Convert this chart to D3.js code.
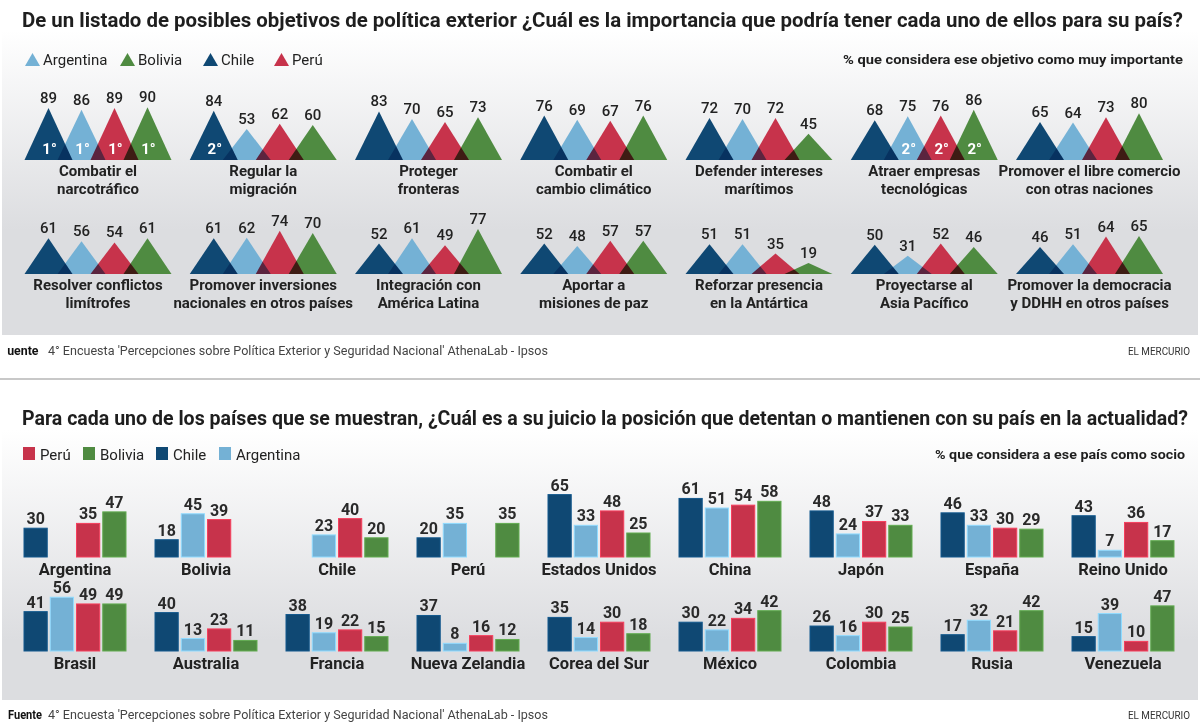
<!DOCTYPE html>
<html>
<head>
<meta charset="utf-8">
<script src="https://cdn.jsdelivr.net/npm/d3@7"></script>
<style>
  body { margin: 0; background: #fff; }
  svg { display: block; font-family: Roboto, "Noto Sans", sans-serif; }
</style>
</head>
<body>
<div id="chart"></div>
<script>
// ---- data ----
const countries = ["Chile", "Argentina", "Perú", "Bolivia"];
const colors = { Chile: "#0f4873", Argentina: "#74b1d5", "Perú": "#c7334b", Bolivia: "#4f8b41" };

// objetivos (top chart), order Chile, Argentina, Perú, Bolivia
const goalLabels = [
  ["Combatir el", "narcotráfico"], ["Regular la", "migración"], ["Proteger", "fronteras"],
  ["Combatir el", "cambio climático"], ["Defender intereses", "marítimos"],
  ["Atraer empresas", "tecnológicas"], ["Promover el libre comercio", "con otras naciones"],
  ["Resolver conflictos", "limítrofes"], ["Promover inversiones", "nacionales en otros países"],
  ["Integración con", "América Latina"], ["Aportar a", "misiones de paz"],
  ["Reforzar presencia", "en la Antártica"], ["Proyectarse al", "Asia Pacífico"],
  ["Promover la democracia", "y DDHH en otros países"]
];
const goalChile     = [89, 84, 83, 76, 72, 68, 65, 61, 61, 52, 52, 51, 50, 46];
const goalArgentina = [86, 53, 70, 69, 70, 75, 64, 56, 62, 61, 48, 51, 31, 51];
const goalPeru      = [89, 62, 65, 67, 72, 76, 73, 54, 74, 49, 57, 35, 52, 64];
const goalBolivia   = [90, 60, 73, 76, 45, 86, 80, 61, 70, 77, 57, 19, 46, 65];
// ranking marks shown inside the triangles
const goalRanks = [
  ["1°", "1°", "1°", "1°"], ["2°", "", "", ""], ["", "", "", ""], ["", "", "", ""],
  ["", "", "", ""], ["", "2°", "2°", "2°"], ["", "", "", ""],
  ["", "", "", ""], ["", "", "", ""], ["", "", "", ""], ["", "", "", ""],
  ["", "", "", ""], ["", "", "", ""], ["", "", "", ""]
];

// socios (bottom chart), null = own country
const partnerLabels = [
  "Argentina", "Bolivia", "Chile", "Perú", "Estados Unidos", "China", "Japón", "España", "Reino Unido",
  "Brasil", "Australia", "Francia", "Nueva Zelandia", "Corea del Sur", "México", "Colombia", "Rusia", "Venezuela"
];
const partnerChile     = [30, 18, null, 20, 65, 61, 48, 46, 43, 41, 40, 38, 37, 35, 30, 26, 17, 15];
const partnerArgentina = [null, 45, 23, 35, 33, 51, 24, 33, 7, 56, 13, 19, 8, 14, 22, 16, 32, 39];
const partnerPeru      = [35, 39, 40, null, 48, 54, 37, 30, 36, 49, 23, 22, 16, 30, 34, 30, 21, 10];
const partnerBolivia   = [47, null, 20, 35, 25, 58, 33, 29, 17, 49, 11, 15, 12, 18, 42, 25, 42, 47];

const legend1 = ["Argentina", "Bolivia", "Chile", "Perú"];
const legend2 = ["Perú", "Bolivia", "Chile", "Argentina"];

const width = 1200, height = 728;

const svg = d3.select("#chart").append("svg")
  .attr("width", width).attr("height", height);

const defs = svg.append("defs");
function grad(id, y1, y2) {
  const g = defs.append("linearGradient").attr("id", id)
    .attr("gradientUnits", "userSpaceOnUse")
    .attr("x1", 0).attr("x2", 0).attr("y1", y1).attr("y2", y2);
  g.append("stop").attr("offset", 0).attr("stop-color", "#ffffff");
  g.append("stop").attr("offset", 1).attr("stop-color", "#dcdde0");
}
grad("bg1", 30, 230);
grad("bg2", 430, 640);
// the top source line is cut at the left edge in the original
defs.append("clipPath").attr("id", "srcclip")
  .append("rect").attr("x", 7.5).attr("y", 330).attr("width", 400).attr("height", 40);

svg.append("rect").attr("x", 2).attr("y", 0).attr("width", 1196).attr("height", 335).attr("fill", "url(#bg1)");
svg.append("rect").attr("x", 2).attr("y", 381).attr("width", 1196).attr("height", 319).attr("fill", "url(#bg2)");
svg.append("line").attr("x1", 0).attr("x2", width).attr("y1", 379).attr("y2", 379)
  .attr("stroke", "#c8c8c8").attr("stroke-width", 2);

// titles
svg.append("text").attr("x", 22).attr("y", 27)
  .attr("font-size", 20).attr("font-weight", 700).attr("fill", "#1e1e1e")
  .attr("textLength", 1161).attr("lengthAdjust", "spacingAndGlyphs")
  .text("De un listado de posibles objetivos de política exterior ¿Cuál es la importancia que podría tener cada uno de ellos para su país?");
svg.append("text").attr("x", 1183).attr("y", 64).attr("text-anchor", "end")
  .attr("font-size", 12.5).attr("font-weight", 700).attr("fill", "#1e1e1e")
  .attr("textLength", 340).attr("lengthAdjust", "spacingAndGlyphs")
  .text("% que considera ese objetivo como muy importante");

svg.append("text").attr("x", 22).attr("y", 425)
  .attr("font-size", 19.5).attr("font-weight", 700).attr("fill", "#1e1e1e")
  .attr("textLength", 1166).attr("lengthAdjust", "spacingAndGlyphs")
  .text("Para cada uno de los países que se muestran, ¿Cuál es a su juicio la posición que detentan o mantienen con su país en la actualidad?");
svg.append("text").attr("x", 1185).attr("y", 459).attr("text-anchor", "end")
  .attr("font-size", 12.5).attr("font-weight", 700).attr("fill", "#1e1e1e")
  .attr("textLength", 250).attr("lengthAdjust", "spacingAndGlyphs")
  .text("% que considera a ese país como socio");

// legends
const leg1X = [25, 120, 203, 274];
legend1.forEach((c, i) => {
  const g = svg.append("g").attr("transform", `translate(${leg1X[i]},0)`);
  g.append("polygon").attr("points", "0,66 15,66 7.5,53").attr("fill", colors[c]);
  g.append("text").attr("x", 18).attr("y", 65).attr("font-size", 15).attr("fill", "#222").text(c);
});
const leg2X = [23, 83, 156, 219];
legend2.forEach((c, i) => {
  const g = svg.append("g").attr("transform", `translate(${leg2X[i]},0)`);
  g.append("rect").attr("x", 0).attr("y", 447).attr("width", 12).attr("height", 13).attr("fill", colors[c]);
  g.append("text").attr("x", 17).attr("y", 460).attr("font-size", 15).attr("fill", "#222").text(c);
});

// ---- top chart: triangles ----
const goalValues = [goalChile, goalArgentina, goalPeru, goalBolivia];
const colStep = 165.25;
const colX = d3.scaleBand().domain(d3.range(7)).range([98 - colStep / 2, 98 + 6.5 * colStep]);
const triX = d3.scalePoint().domain(countries).range([-49.5, 49.5]);
const triH = d3.scaleLinear().domain([0, 100]).range([0, 58.5]);
const triHalf = 24;
const rowBase = [160, 274];

goalLabels.forEach((lab, k) => {
  const col = k % 7, row = Math.floor(k / 7);
  const cx = colX(col) + colX.bandwidth() / 2;
  const base = rowBase[row];
  const g = svg.append("g").attr("transform", `translate(${cx},${base})`);
  const data = countries.map((c, j) => ({ c, v: goalValues[j][k], r: goalRanks[k][j] }));

  const tris = g.append("g").style("isolation", "isolate");
  tris.selectAll("polygon").data(data).join("polygon")
    .attr("points", d => {
      const x = triX(d.c), h = triH(d.v);
      return `${x - triHalf},0 ${x + triHalf},0 ${x},${-h}`;
    })
    .attr("fill", d => colors[d.c])
    .style("mix-blend-mode", "multiply");

  g.selectAll("text.val").data(data).join("text").attr("class", "val")
    .attr("x", d => triX(d.c)).attr("y", d => -triH(d.v) - 5)
    .attr("text-anchor", "middle").attr("font-size", 15).attr("font-weight", 500)
    .attr("fill", "#222").text(d => d.v);

  g.selectAll("text.rank").data(data.filter(d => d.r)).join("text").attr("class", "rank")
    .attr("x", d => triX(d.c) + 1).attr("y", -6)
    .attr("text-anchor", "middle").attr("font-size", 15).attr("font-weight", 700)
    .attr("fill", "#fff").text(d => d.r);

  g.selectAll("text.lab").data(lab).join("text").attr("class", "lab")
    .attr("x", 0).attr("y", (d, i) => 16 + i * 18)
    .attr("text-anchor", "middle").attr("font-size", 15).attr("font-weight", 700)
    .attr("fill", "#222").text(d => d);
});

// ---- bottom chart: bars ----
const partnerValues = [partnerChile, partnerArgentina, partnerPeru, partnerBolivia];
const panelX = d3.scaleBand().domain(d3.range(9)).range([75 - 65.5, 75 + 8.5 * 131]);
const barX = d3.scaleBand().domain(countries).range([-51, 51]).paddingInner(0.115);
const barH = d3.scaleLinear().domain([0, 100]).range([0, 96]);
const barBase = [557, 651];

partnerLabels.forEach((lab, k) => {
  const col = k % 9, row = Math.floor(k / 9);
  const cx = panelX(col) + panelX.bandwidth() / 2;
  const g = svg.append("g").attr("transform", `translate(${cx},${barBase[row]})`);
  const data = countries.map((c, j) => ({ c, v: partnerValues[j][k] })).filter(d => d.v != null);

  g.selectAll("rect").data(data).join("rect")
    .attr("x", d => barX(d.c)).attr("width", barX.bandwidth())
    .attr("y", d => -barH(d.v)).attr("height", d => barH(d.v))
    .attr("fill", d => colors[d.c])
    .attr("stroke", d => d3.color(colors[d.c]).brighter(0.6))
    .attr("stroke-width", 1);

  g.selectAll("text.val").data(data).join("text").attr("class", "val")
    .attr("x", d => barX(d.c) + barX.bandwidth() / 2).attr("y", d => -barH(d.v) - 4)
    .attr("text-anchor", "middle").attr("font-size", 16).attr("font-weight", 700)
    .attr("fill", "#2a2a2a").text(d => d.v);

  g.append("text").attr("x", 0).attr("y", 18)
    .attr("text-anchor", "middle").attr("font-size", 16.5).attr("font-weight", 700)
    .attr("fill", "#222").text(lab);
});

// ---- footers ----
function footer(y, clip) {
  const f = svg.append("text").attr("y", y).attr("font-size", 12.5).attr("font-weight", 700)
    .attr("fill", "#111").attr("lengthAdjust", "spacingAndGlyphs")
    .text("Fuente");
  if (clip) {
    f.attr("x", 0.5).attr("textLength", 38).attr("clip-path", "url(#srcclip)");
  } else {
    f.attr("x", 8).attr("textLength", 34);
  }
  svg.append("text").attr("x", 48).attr("y", y).attr("font-size", 12.5).attr("fill", "#444")
    .attr("textLength", 500).attr("lengthAdjust", "spacingAndGlyphs")
    .text("4° Encuesta 'Percepciones sobre Política Exterior y Seguridad Nacional' AthenaLab - Ipsos");
  svg.append("text").attr("x", 1190).attr("y", y).attr("text-anchor", "end")
    .attr("font-size", 11.5).attr("fill", "#333")
    .attr("textLength", 62).attr("lengthAdjust", "spacingAndGlyphs").text("EL MERCURIO");
}
footer(355, true);
footer(719, false);
</script>
</body>
</html>
